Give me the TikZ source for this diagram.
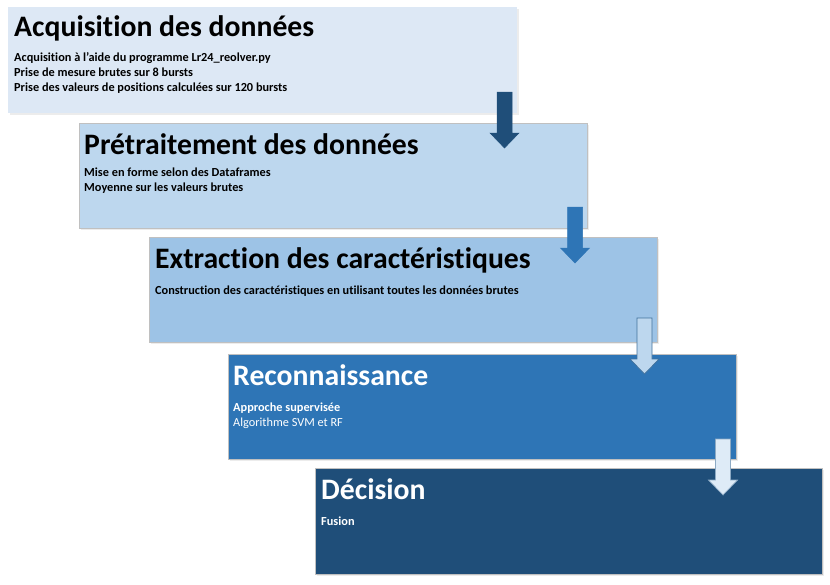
\documentclass[tikz,border=0pt]{standalone}
\usepackage{fontspec}
\setmainfont{Carlito}[Ligatures=NoCommon]
\usetikzlibrary{shadows,calc}
\definecolor{cA}{HTML}{DDE8F5}
\definecolor{cB}{HTML}{BDD7EE}
\definecolor{cC}{HTML}{9DC3E6}
\definecolor{cD}{HTML}{2E75B6}
\definecolor{cE}{HTML}{1F4E79}
\definecolor{cF}{HTML}{DEEBF7}
\definecolor{edge}{HTML}{C0C0C0}
\definecolor{aline}{HTML}{41719C}
\tikzset{
  x=1pt, y=-1pt,
  stage/.style={rectangle, anchor=north west, inner sep=0pt, outer sep=0pt,
    minimum width=508pt, minimum height=105pt, draw=edge, line width=0.7pt,
    drop shadow={opacity=0.15, shadow xshift=1.5pt, shadow yshift=-2pt}},
  title/.style={anchor=base west, inner sep=0pt, font=\bfseries\fontsize{29.7}{35}\selectfont},
  body/.style={anchor=base west, inner sep=0pt, font=\bfseries\fontsize{12.3}{14}\selectfont},
  bodyr/.style={anchor=base west, inner sep=0pt, font=\fontsize{12.3}{14}\selectfont},
  blockarrow/.pic={\path[pic actions] (-7.5,0) -- (7.5,0) -- (7.5,41) -- (14.5,41) -- (0,56) -- (-14.5,41) -- (-7.5,41) -- cycle;}
}
\begin{document}
\begin{tikzpicture}
\fill[white] (0,0) rectangle (830,584);
\useasboundingbox (0,0) rectangle (830,584);
% stages
\node[stage, fill=cA, draw=none, minimum width=509pt, minimum height=106pt] (b1) at (8,7) {};
\node[stage, fill=cB] (b2) at (79,123) {};
\node[stage, fill=cC] (b3) at (149,237) {};
\node[stage, fill=cD] (b4) at (228,354) {};
\node[stage, fill=cE, minimum width=507pt, minimum height=106pt] (b5) at (315,468) {};
% texts
\node[title] (t1) at (14,36.5) {Acquisition des données};
\node[body] (d1a) at (14,61) {Acquisition à l’aide du programme Lr24\_reolver.py};
\node[body] (d1b) at (14,76) {Prise de mesure brutes sur 8 bursts};
\node[body] (d1c) at (14,91) {Prise des valeurs de positions calculées sur 120 bursts};
\node[title] (t2) at (84,154) {Prétraitement des données};
\node[body] (d2a) at (84,176.5) {Mise en forme selon des Dataframes};
\node[body] (d2b) at (84,191.5) {Moyenne sur les valeurs brutes};
\node[title] (t3) at (155,268) {Extraction des caractéristiques};
\node[body] (d3a) at (155,294.5) {Construction des caractéristiques en utilisant toutes les données brutes};
\node[title, text=white] (t4) at (233,385) {Reconnaissance};
\node[body, text=white] (d4a) at (233,411.5) {Approche supervisée};
\node[bodyr, text=white] (d4b) at (233,426) {Algorithme SVM et RF};
\node[title, text=white] (t5) at (321,499) {Décision};
\node[body, text=white] (d5a) at (321,525.5) {Fusion};
% arrows
\pic[fill=cE, draw=cE, line width=0.5pt] at ($(b1.south east)+(-12.5,-21)$) {blockarrow};
\pic[fill=cD, draw=cD, line width=0.5pt] at ($(b2.south east)+(-12,-21)$) {blockarrow};
\pic[fill=cB, draw=aline, line width=0.7pt] at ($(b3.south east)+(-12.5,-24)$) {blockarrow};
\pic[fill=cF, draw=aline!60, line width=0.7pt] at ($(b4.south east)+(-13,-20)$) {blockarrow};
\end{tikzpicture}
\end{document}
